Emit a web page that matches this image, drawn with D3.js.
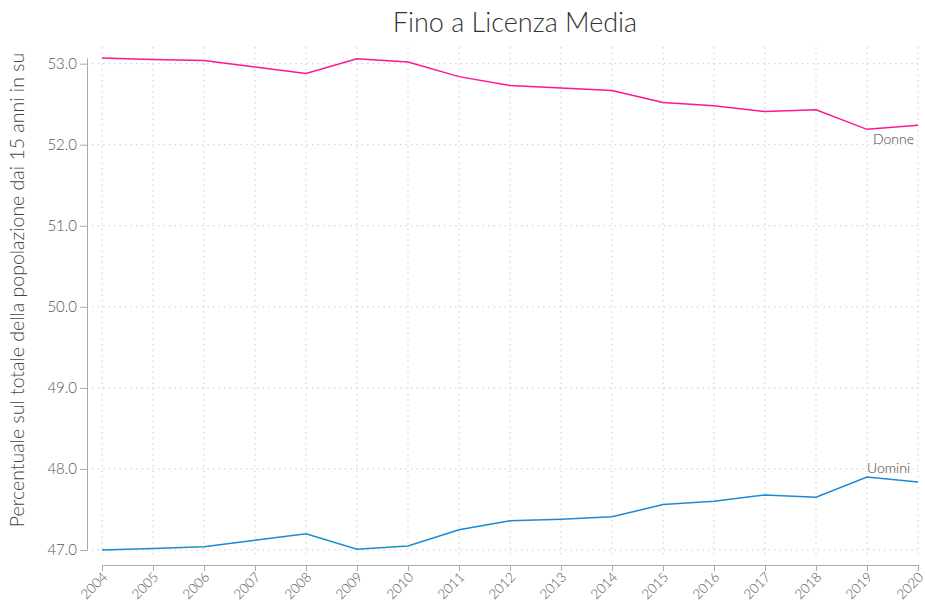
<!DOCTYPE html>
<html><head><meta charset="utf-8">
<script src="https://cdn.jsdelivr.net/npm/d3@7"></script>
<style>
body{margin:0;background:#fff;}
text{font-family:Lato,"Open Sans",sans-serif;font-weight:300;}
</style></head>
<body>
<svg id="c" width="925" height="602"></svg>
<script>
const years = [2004,2005,2006,2007,2008,2009,2010,2011,2012,2013,2014,2015,2016,2017,2018,2019,2020];
const donne = [53.07,53.05,53.04,52.96,52.88,53.06,53.02,52.84,52.73,52.70,52.67,52.52,52.48,52.41,52.43,52.19,52.24];
const uomini = [47.00,47.02,47.04,47.12,47.20,47.01,47.05,47.25,47.36,47.38,47.41,47.56,47.60,47.68,47.65,47.90,47.84];
const yTicks = [47,48,49,50,51,52,53];
const title = "Fino a Licenza Media";
const yLabel = "Percentuale sul totale della popolazione dai 15 anni in su";

const svg = d3.select("#c");
const m = {l:102, r:918, t:58, b:550};
const x = d3.scaleLinear().domain([2004,2020]).range([m.l, m.r]);
const y = d3.scaleLinear().domain([47.0, 53.07]).range([m.b, m.t]);

// grid
const g = svg.append("g");
g.selectAll("line.v").data(years).join("line")
  .attr("x1", d=>x(d)).attr("x2", d=>x(d)).attr("y1", 47).attr("y2", 558)
  .attr("stroke","#ccc").attr("stroke-dasharray","1.5,4").attr("stroke-width",1);
g.selectAll("line.h").data(yTicks).join("line")
  .attr("x1", 92).attr("x2", 918).attr("y1", d=>y(d)).attr("y2", d=>y(d))
  .attr("stroke","#ccc").attr("stroke-dasharray","1.5,4").attr("stroke-width",1);

// axes
const xa = svg.append("g").attr("transform","translate(0,565)")
  .call(d3.axisBottom(x).tickValues(years).tickFormat(d3.format("d")).tickSize(6).tickSizeOuter(0));
const ya = svg.append("g").attr("transform","translate(87,0)")
  .call(d3.axisLeft(y).tickValues(yTicks).tickFormat(d3.format(".1f")).tickSize(7).tickSizeOuter(0));
[xa,ya].forEach(a=>{
  a.select(".domain").attr("stroke","#aaa");
  a.selectAll(".tick line").attr("stroke","#aaa");
  a.selectAll("text").attr("fill","#555").style("font-size","15px").style("font-family","Lato,sans-serif").style("font-weight","300");
});
xa.selectAll("text").style("font-size","13.5px").attr("text-anchor","end")
  .attr("x",0).attr("y",0).attr("dy","0.3em")
  .attr("transform","translate(3,10) rotate(-45)");

// lines
const line = vals => d3.line().x((d,i)=>x(years[i])).y(d=>y(d))(vals);
svg.append("path").attr("d", line(donne)).attr("fill","none").attr("stroke","#ff1493").attr("stroke-width",1.5);
svg.append("path").attr("d", line(uomini)).attr("fill","none").attr("stroke","#1a8ad4").attr("stroke-width",1.5);

svg.append("text").attr("x",914).attr("y",y(donne[donne.length-1])+19).attr("text-anchor","end")
  .attr("fill","#444").style("font-size","14px").text("Donne");
svg.append("text").attr("x",910).attr("y",y(uomini[uomini.length-1])-9).attr("text-anchor","end")
  .attr("fill","#444").style("font-size","14px").text("Uomini");

svg.append("text").attr("x",515).attr("y",32).attr("text-anchor","middle")
  .attr("fill","#333").style("font-size","27px").text(title);
svg.append("text").attr("transform","translate(24,290) rotate(-90)").attr("text-anchor","middle")
  .attr("fill","#444").style("font-size","19.5px").text(yLabel);
</script>
</body></html>
